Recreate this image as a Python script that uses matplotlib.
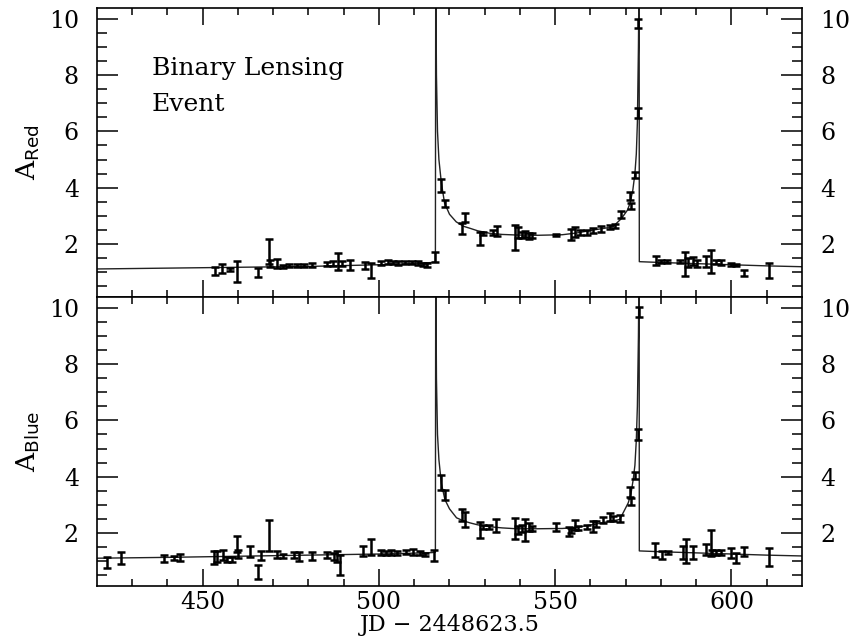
import matplotlib
matplotlib.use("Agg")
import matplotlib.pyplot as plt
import numpy as np

# model light curve (red / blue)
model_t_red = [420, 440, 460, 480, 500, 510, 515, 516.0, 516.1, 516.3, 516.6, 517.0,
               517.7, 518.6, 520, 521.9, 524, 525.8, 528, 531.5, 535, 539, 545, 552,
               556, 560.8, 564, 566.4, 568.8, 570.5, 571.2, 572, 572.6, 573.0, 573.3,
               573.6, 573.8, 573.85, 580, 590, 600, 610, 620]
model_a_red = [1.10, 1.13, 1.16, 1.19, 1.25, 1.29, 1.33, 1.35, 12, 8.0, 6.0, 5.0,
               4.16, 3.45, 3.05, 2.78, 2.62, 2.55, 2.46, 2.37, 2.33, 2.31, 2.30, 2.32,
               2.38, 2.49, 2.55, 2.61, 2.90, 3.20, 3.44, 3.90, 4.50, 5.20, 6.30,
               9.0, 12, 1.36, 1.33, 1.29, 1.25, 1.21, 1.18]

model_t_blue = [420, 440, 460, 480, 500, 510, 515, 516.0, 516.1, 516.3, 516.6, 517.0,
                517.7, 518.7, 520, 522, 524, 525.8, 528, 531.5, 535, 539, 545, 552,
                556, 560.8, 564, 568.3, 570.7, 571.5, 572.1, 572.6, 573.0, 573.3,
                573.6, 573.8, 573.85, 580, 590, 600, 610, 620]
model_a_blue = [1.09, 1.12, 1.16, 1.20, 1.24, 1.27, 1.29, 1.30, 12, 7.5, 5.5, 4.6,
                3.75, 3.18, 2.85, 2.53, 2.42, 2.35, 2.28, 2.21, 2.17, 2.14, 2.14, 2.15,
                2.19, 2.29, 2.37, 2.47, 3.06, 3.40, 3.88, 4.40, 5.30, 6.50,
                9.0, 12, 1.35, 1.32, 1.28, 1.24, 1.20, 1.17]

# observations (JD - 2448623.5, amplification, error)
t_red = [453.6, 455.5, 457.8, 459.7, 465.7, 468.7, 469.2, 471.0, 472.9, 474.4, 476.7,
         478.6, 481.0, 485.2, 487.0, 488.4, 489.4, 491.8, 496.0, 497.6, 500.7, 502.5,
         504.0, 505.5, 507.5, 509.5, 511.0, 512.5, 513.5, 515.9, 517.6, 518.6, 523.6,
         524.5, 528.6, 529.6, 532.4, 533.5, 538.5, 539.5, 540.5, 541.5, 542.5, 543.5,
         550.2, 554.6, 555.6, 557.0, 558.9, 560.8, 563.1, 565.5, 566.9, 568.6, 571.3,
         571.6, 572.6, 573.5, 573.6, 578.7, 580.1, 581.6, 585.4, 586.8, 587.7, 589.0,
         590.1, 592.9, 594.3, 595.7, 597.1, 600.0, 601.4, 603.5, 610.6]
a_red = [1.03, 1.11, 1.09, 1.02, 0.97, 1.72, 1.30, 1.28, 1.20, 1.22, 1.22,
         1.23, 1.24, 1.28, 1.30, 1.36, 1.30, 1.24, 1.22, 1.04, 1.32, 1.35,
         1.33, 1.30, 1.33, 1.34, 1.31, 1.25, 1.24, 1.54, 4.08, 3.43, 2.54,
         2.93, 2.19, 2.37, 2.40, 2.45, 2.22, 2.40, 2.30, 2.35, 2.28, 2.30,
         2.31, 2.34, 2.43, 2.40, 2.40, 2.47, 2.53, 2.61, 2.62, 3.04, 3.70,
         3.35, 4.45, 6.65, 9.85, 1.40, 1.36, 1.36, 1.36, 1.28, 1.33, 1.38,
         1.30, 1.37, 1.37, 1.35, 1.33, 1.26, 1.24, 0.97, 1.05]
e_red = [0.15, 0.16, 0.05, 0.37, 0.17, 0.45, 0.12, 0.16, 0.05, 0.05, 0.05,
         0.05, 0.06, 0.06, 0.08, 0.30, 0.10, 0.18, 0.13, 0.27, 0.07, 0.07,
         0.07, 0.07, 0.06, 0.06, 0.06, 0.06, 0.06, 0.18, 0.23, 0.13, 0.19,
         0.15, 0.24, 0.05, 0.10, 0.17, 0.45, 0.18, 0.10, 0.12, 0.10, 0.08,
         0.05, 0.20, 0.18, 0.08, 0.08, 0.10, 0.10, 0.07, 0.07, 0.13, 0.13,
         0.10, 0.12, 0.18, 0.15, 0.17, 0.05, 0.05, 0.05, 0.43, 0.15, 0.15,
         0.12, 0.19, 0.40, 0.08, 0.08, 0.05, 0.05, 0.11, 0.28]

t_blue = [422.8, 426.8, 438.9, 441.8, 443.6, 453.1, 454.0, 455.7, 456.9, 458.3, 459.6,
          459.9, 463.5, 465.7, 466.5, 468.7, 471.0, 472.9, 475.8, 477.2, 481.0, 485.2,
          487.2, 488.0, 489.0, 495.5, 497.6, 500.7, 502.0, 503.5, 505.0, 507.8, 509.7,
          511.5, 513.0, 515.7, 517.7, 518.6, 523.6, 524.5, 528.6, 529.6, 531.1, 533.1,
          538.5, 539.5, 540.5, 541.5, 542.5, 543.3, 550.2, 553.8, 554.6, 555.6, 556.5,
          559.0, 560.6, 561.7, 563.6, 565.5, 566.4, 568.3, 571.3, 571.6, 572.6, 573.6,
          573.7, 578.4, 580.4, 582.0, 586.3, 587.0, 589.1, 592.9, 594.3, 594.6, 595.6,
          597.1, 600.0, 601.2, 603.6, 610.6]
a_blue = [0.93, 1.09, 1.08, 1.10, 1.12, 1.12, 1.15, 1.20, 1.05, 1.05, 1.60,
          1.25, 1.33, 0.60, 1.18, 1.90, 1.22, 1.18, 1.20, 1.15, 1.16, 1.20,
          1.15, 1.15, 0.85, 1.35, 1.49, 1.29, 1.27, 1.30, 1.28, 1.30, 1.32,
          1.28, 1.22, 1.20, 3.80, 3.33, 2.63, 2.47, 2.10, 2.20, 2.20, 2.24,
          2.15, 2.10, 2.15, 2.10, 2.20, 2.15, 2.20, 2.05, 2.08, 2.28, 2.17,
          2.20, 2.22, 2.30, 2.45, 2.56, 2.50, 2.51, 3.45, 3.10, 4.05, 5.50,
          9.88, 1.37, 1.20, 1.28, 1.30, 1.35, 1.30, 1.40, 1.64, 1.30, 1.30,
          1.30, 1.26, 1.10, 1.33, 1.13]
e_blue = [0.19, 0.21, 0.12, 0.07, 0.12, 0.23, 0.20, 0.18, 0.10, 0.10, 0.28,
          0.15, 0.20, 0.25, 0.17, 0.55, 0.12, 0.07, 0.10, 0.15, 0.15, 0.10,
          0.12, 0.20, 0.35, 0.18, 0.30, 0.10, 0.08, 0.10, 0.08, 0.07, 0.10,
          0.08, 0.06, 0.20, 0.27, 0.18, 0.22, 0.25, 0.28, 0.07, 0.07, 0.23,
          0.38, 0.15, 0.12, 0.38, 0.15, 0.10, 0.15, 0.17, 0.10, 0.17, 0.08,
          0.07, 0.20, 0.10, 0.12, 0.15, 0.08, 0.13, 0.17, 0.12, 0.13, 0.20,
          0.18, 0.25, 0.15, 0.05, 0.23, 0.43, 0.23, 0.18, 0.47, 0.10, 0.08,
          0.08, 0.18, 0.17, 0.16, 0.31]

plt.rcParams["font.family"] = "DejaVu Serif"
plt.rcParams["mathtext.fontset"] = "dejavusans"

fig = plt.figure(figsize=(8.53, 6.4), dpi=100)
ax1 = fig.add_axes([0.1137, 0.5359, 0.8265, 0.4516])
ax2 = fig.add_axes([0.1137, 0.0844, 0.8265, 0.4515], sharex=ax1)

panels = [
    (ax1, model_t_red, model_a_red, t_red, a_red, e_red, r"A$_{\mathsf{Red}}$"),
    (ax2, model_t_blue, model_a_blue, t_blue, a_blue, e_blue, r"A$_{\mathsf{Blue}}$"),
]

for ax, mt, ma, t, a, e, lab in panels:
    ax.plot(mt, ma, color="#222222", linewidth=1.0, zorder=2)
    ax.errorbar(t, a, yerr=e, fmt="none", ecolor="black", elinewidth=1.8,
                capsize=3, capthick=1.8, zorder=3)
    ax.set_xlim(420, 620)
    ax.set_ylim(0.1, 10.4)
    ax.set_yticks([2, 4, 6, 8, 10])
    ax.set_yticks(np.arange(0.5, 10.5, 0.5), minor=True)
    ax.set_xticks([450, 500, 550, 600])
    ax.set_xticks(np.arange(430, 620, 10), minor=True)
    ax.tick_params(axis="both", which="both", direction="in", top=True, right=True,
                   width=1.1, labelsize=17)
    ax.tick_params(axis="y", which="major", length=15, pad=13, labelright=True)
    ax.tick_params(axis="y", which="minor", length=7.5)
    ax.tick_params(axis="x", which="major", length=12, pad=3.5)
    ax.tick_params(axis="x", which="minor", length=5)
    for s in ax.spines.values():
        s.set_linewidth(1.2)
    ax.set_ylabel(lab, fontsize=19)
    ax.yaxis.set_label_coords(-0.078, 0.5)

ax1.tick_params(axis="x", labelbottom=False)
ax2.set_xlabel("JD \u2212 2448623.5", fontsize=16, labelpad=0)

ax1.text(435.5, 8.25, "Binary Lensing", fontsize=18, va="center", ha="left")
ax1.text(435.5, 6.95, "Event", fontsize=18, va="center", ha="left")

fig.savefig("out.png", dpi=100)
